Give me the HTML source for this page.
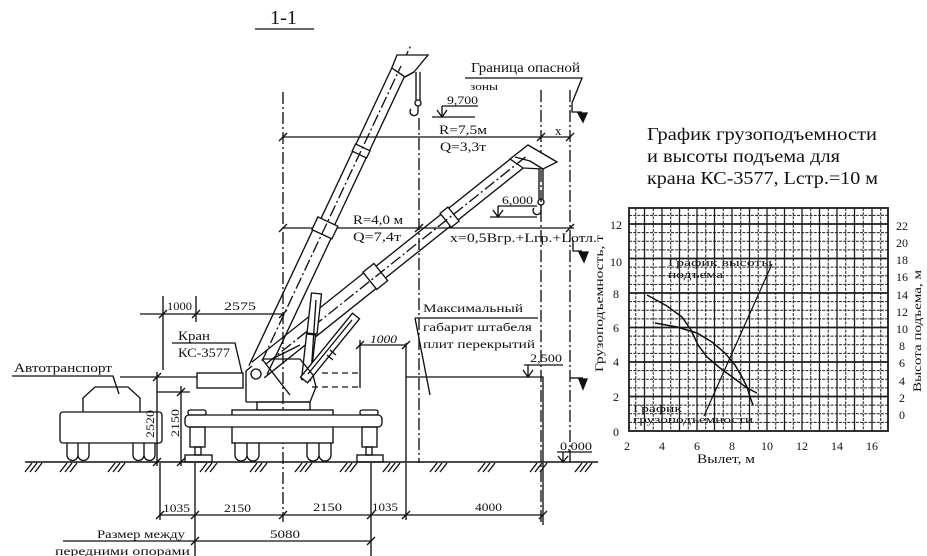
<!DOCTYPE html>
<html><head><meta charset="utf-8"><style>
html,body{margin:0;padding:0;background:#fff;}
svg{display:block;}
text{font-family:"Liberation Serif","DejaVu Serif",serif;fill:#111;}
</style></head><body>
<svg width="927" height="556" viewBox="0 0 927 556" xmlns="http://www.w3.org/2000/svg">
<g fill="none" stroke="#111" stroke-width="1.35">

<line x1="255" y1="29" x2="314" y2="29"/>

<g stroke-dasharray="12 3 2 3">
<line x1="283" y1="92" x2="283" y2="522"/>
<line x1="419" y1="118" x2="419" y2="463"/>
<line x1="541" y1="90" x2="541" y2="525"/>
<line x1="570" y1="90" x2="570" y2="463"/>
<line x1="403" y1="62" x2="411" y2="45"/>
</g>

<line x1="283" y1="137" x2="570" y2="137"/>
<line x1="283" y1="228" x2="574" y2="228"/>
<path d="M279,141 l8,-8 M537,141 l8,-8 M566,141 l8,-8 M279,232 l8,-8 M415,232 l8,-8 M566,232 l8,-8"/>

<path d="M465,78 H582 L572,103 V112 H582"/>
<polygon points="578,113 587,113 583,122" fill="#111"/>
<path d="M573,240 V251 H582"/>
<polygon points="579,252 588,252 584,262" fill="#111"/>
<path d="M570,378 H583"/>
<polygon points="579,379 587,379 583,389" fill="#111"/>

<path d="M442,106 H478 M442,106 V117 M432,117 H475 M437,110 L442,117 L447,110"/>
<path d="M498,206 H537 M498,206 V217 M490,217 H537 M493,210 L498,217 L503,210"/>
<path d="M524,365 H563 M528,365 V377 M523,370 L528,377 L533,370"/>
<path d="M557,452 H592 M563,452 V462 M558,456 L563,462 L568,456"/>

<path d="M248.9,365.7 L315.8,223.6 M267.1,374.3 L334,232.2"/>
<path d="M318.1,224.7 L391.8,68 M331.7,231.1 L404.7,76"/>
<polygon points="311.9,229.6 331.9,238.9 337.9,226.3 317.9,216.9" fill="#fff"/>
<polygon points="352.2,151.2 366.6,158 370,150.8 355.6,144" fill="#fff"/>
<polygon points="391.8,68 397,55 428,55 414,72 405,77" fill="#fff"/>
<path d="M395,70 L405,77 L414,72" />
<line x1="262" y1="361" x2="401" y2="66" stroke-dasharray="12 3 2 3"/>
<path d="M416,72 V100 M420,72 V100"/>
<circle cx="418" cy="103" r="3"/>
<path d="M418,106 V111 a4,4 0 1 1 -7,-2"/>

<path d="M251.8,362.2 L369.1,268.6 M264.2,377.8 L381.5,284.2"/>
<path d="M370.6,270.5 L510,159.3 M380,282.3 L523,168.2"/>
<polygon points="362.9,272.2 376.7,289.4 387.7,280.7 373.9,263.5" fill="#fff"/>
<polygon points="440.1,213.3 451.3,227.3 459.1,221.1 447.9,207.1" fill="#fff"/>
<polygon points="510,159 528,145 557,162 543,169 523,168" fill="#fff"/>
<path d="M515,157 L530,161 L543,169"/>
<line x1="266" y1="364" x2="528" y2="155" stroke-dasharray="12 3 2 3"/>
<path d="M539,169 V199 M543,169 V199"/>
<circle cx="541" cy="202" r="3"/>
<path d="M541,205 V210 a4,4 0 1 1 -7,-2"/>

<polygon points="301.5,379.5 310.5,380.5 315.6,335 306.6,334" fill="#fff"/>
<polygon points="307,333 317,334 321.5,294 311.5,293" fill="#fff"/>
<line x1="311" y1="375" x2="316" y2="300"/>
<polygon points="300.5,377.2 307.5,382.8 359.5,318.8 352.5,313.2" fill="#fff"/>
<path d="M308,374 L352,320 M327,355 l6,5 M330,350 l6,5"/>

<path d="M246,402 V371 L252,366 M262,359 H300 M300,359 L313,375 L316,387 L310,402 H246"/>
<path d="M262,359 L290,395 M272,359 L300,345"/>
<circle cx="256" cy="374" r="5" fill="#fff"/>
<rect x="197" y="373" width="46" height="15"/>
<rect x="257" y="402" width="53" height="8"/>
<rect x="232" y="410" width="101" height="33" fill="#fff"/>
<rect x="185" y="415" width="197" height="12" rx="4" fill="#fff"/>
<rect x="188" y="410" width="18" height="5" rx="2"/>
<rect x="360" y="410" width="18" height="5" rx="2"/>
<rect x="190" y="427" width="15" height="20"/>
<rect x="195" y="447" width="6" height="8"/>
<rect x="185" y="455" width="27" height="7"/>
<rect x="362" y="427" width="15" height="20"/>
<rect x="366" y="447" width="6" height="8"/>
<rect x="357" y="455" width="26" height="7"/>
<path d="M235,443 V455 a6,6 0 0 0 12,0 V443 M247,443 V455 a6,6 0 0 0 12,0 V443"/>
<path d="M307,443 V455 a6,6 0 0 0 12,0 V443 M319,443 V455 a6,6 0 0 0 12,0 V443"/>

<path d="M322,373 H360 M312,387 H360" stroke-dasharray="6 4"/>
<path d="M360,340 V388"/>
<path d="M360,345 H406 M356,349 l8,-8 M402,349 l8,-8"/>

<path d="M406,343 V462 M406,377 H543 V462"/>
<path d="M415,318 H538 M415,318 L430,395"/>

<path d="M83,412 V398 L95,387 H128 L140,398 V412"/>
<rect x="60" y="412" width="102" height="31" rx="3"/>
<path d="M67,443 V455 a5.5,5.5 0 0 0 11,0 V443 M78,443 V455 a5.5,5.5 0 0 0 11,0 V443"/>
<path d="M133,443 V455 a5.5,5.5 0 0 0 11,0 V443 M144,443 V455 a5.5,5.5 0 0 0 11,0 V443"/>
<path d="M12,376 H113 L119,394"/>

<path d="M172,343 H235 L242,373"/>

<path d="M140,314 H283 M159,318 l8,-8 M192,318 l8,-8 M279,318 l8,-8"/>
<path d="M163,296 V370 M196,296 V322"/>
<path d="M120,377 H197 M157,372 V466 M153,381 l8,-8 M153,466 l8,-8"/>
<path d="M157,392 H190 M181,386 V466 M177,396 l8,-8 M177,466 l8,-8"/>

<line x1="25" y1="462" x2="598" y2="462" stroke-width="1.5"/>
<path d="M25,472 l7,-9 M30,472 l7,-9 M35,472 l7,-9
M60,472 l7,-9 M65,472 l7,-9 M70,472 l7,-9
M108,472 l7,-9 M113,472 l7,-9 M118,472 l7,-9
M200,472 l7,-9 M205,472 l7,-9 M210,472 l7,-9
M250,472 l7,-9 M255,472 l7,-9 M260,472 l7,-9
M295,472 l7,-9 M300,472 l7,-9 M305,472 l7,-9
M340,472 l7,-9 M345,472 l7,-9 M350,472 l7,-9
M383,472 l7,-9 M388,472 l7,-9 M393,472 l7,-9
M430,472 l7,-9 M435,472 l7,-9 M440,472 l7,-9
M478,472 l7,-9 M483,472 l7,-9 M488,472 l7,-9
M530,472 l7,-9 M535,472 l7,-9 M540,472 l7,-9
M575,472 l7,-9 M580,472 l7,-9 M585,472 l7,-9"/>

<path d="M160,463 V520 M195,463 V556 M371,463 V556 M406,463 V520 M543,463 V525"/>
<path d="M160,515 H543 M156,519 l8,-8 M191,519 l8,-8 M279,519 l8,-8 M367,519 l8,-8 M402,519 l8,-8 M539,519 l8,-8"/>
<path d="M63,541 H371 M191,545 l8,-8 M367,545 l8,-8"/>
</g>

<text x="270" y="24" font-size="20" textLength="27" lengthAdjust="spacingAndGlyphs">1-1</text>
<text x="471" y="72" font-size="14" textLength="109" lengthAdjust="spacingAndGlyphs">Граница опасной</text>
<text x="470" y="90" font-size="11" textLength="28" lengthAdjust="spacingAndGlyphs">зоны</text>
<text x="447" y="104" font-size="12" textLength="31" lengthAdjust="spacingAndGlyphs">9,700</text>
<text x="439" y="134" font-size="13" textLength="48" lengthAdjust="spacingAndGlyphs">R=7,5м</text>
<text x="440" y="151" font-size="13" textLength="46" lengthAdjust="spacingAndGlyphs">Q=3,3т</text>
<text x="555" y="135" font-size="13">x</text>
<text x="502" y="204" font-size="12" textLength="31" lengthAdjust="spacingAndGlyphs">6,000</text>
<text x="353" y="224" font-size="13" textLength="50" lengthAdjust="spacingAndGlyphs">R=4,0 м</text>
<text x="353" y="241" font-size="13" textLength="48" lengthAdjust="spacingAndGlyphs">Q=7,4т</text>
<text x="450" y="242" font-size="13" textLength="147" lengthAdjust="spacingAndGlyphs">x=0,5Вгр.+Lгр.+Lотл.</text>

<text x="167" y="310" font-size="12" textLength="25" lengthAdjust="spacingAndGlyphs">1000</text>
<text x="224" y="310" font-size="12" textLength="32" lengthAdjust="spacingAndGlyphs">2575</text>
<text x="178" y="340" font-size="13" textLength="32" lengthAdjust="spacingAndGlyphs">Кран</text>
<text x="178" y="357" font-size="13" textLength="52" lengthAdjust="spacingAndGlyphs">КС-3577</text>
<text x="14" y="372" font-size="13" textLength="98" lengthAdjust="spacingAndGlyphs">Автотранспорт</text>
<text transform="translate(154,438) rotate(-90)" font-size="12" textLength="28" lengthAdjust="spacingAndGlyphs">2520</text>
<text transform="translate(179,437) rotate(-90)" font-size="12" textLength="28" lengthAdjust="spacingAndGlyphs">2150</text>

<text x="370" y="343" font-size="12" font-style="italic" textLength="27" lengthAdjust="spacingAndGlyphs">1000</text>
<text x="423" y="312" font-size="12" textLength="100" lengthAdjust="spacingAndGlyphs">Максимальный</text>
<text x="423" y="331" font-size="12" textLength="109" lengthAdjust="spacingAndGlyphs">габарит штабеля</text>
<text x="423" y="348" font-size="12" textLength="112" lengthAdjust="spacingAndGlyphs">плит перекрытий</text>
<text x="530" y="362" font-size="12" textLength="32" lengthAdjust="spacingAndGlyphs">2,500</text>
<text x="560" y="450" font-size="12" textLength="32" lengthAdjust="spacingAndGlyphs">0,000</text>

<text x="163" y="512" font-size="12" textLength="27" lengthAdjust="spacingAndGlyphs">1035</text>
<text x="224" y="512" font-size="12" textLength="27" lengthAdjust="spacingAndGlyphs">2150</text>
<text x="313" y="511" font-size="12" textLength="29" lengthAdjust="spacingAndGlyphs">2150</text>
<text x="372" y="511" font-size="12" textLength="26" lengthAdjust="spacingAndGlyphs">1035</text>
<text x="475" y="511" font-size="12" textLength="27" lengthAdjust="spacingAndGlyphs">4000</text>
<text x="97" y="538" font-size="12" textLength="88" lengthAdjust="spacingAndGlyphs">Размер между</text>
<text x="270" y="538" font-size="12" textLength="30" lengthAdjust="spacingAndGlyphs">5080</text>
<text x="55" y="555" font-size="12" textLength="135" lengthAdjust="spacingAndGlyphs">передними опорами</text>

<text x="647" y="140" font-size="18" textLength="230" lengthAdjust="spacingAndGlyphs">График грузоподъемности</text>
<text x="647" y="162" font-size="18" textLength="193" lengthAdjust="spacingAndGlyphs">и высоты подъема для</text>
<text x="647" y="184" font-size="18" textLength="231" lengthAdjust="spacingAndGlyphs">крана КС-3577, Lстр.=10 м</text>

<text x="668" y="266" font-size="11" textLength="104" lengthAdjust="spacingAndGlyphs">График высоты</text>
<text x="668" y="278" font-size="11" textLength="55" lengthAdjust="spacingAndGlyphs">подъема</text>
<text x="633" y="412" font-size="11" textLength="49" lengthAdjust="spacingAndGlyphs">График</text>
<text x="633" y="423" font-size="11" textLength="120" lengthAdjust="spacingAndGlyphs">грузоподъемности</text>

<g fill="none" stroke="#1c1c1c">
<rect x="629" y="208" width="259" height="223" stroke-width="1.8"/>
<path stroke-width="1" stroke-dasharray="3 1.2" d="M635.75,208V431 M653.25,208V431 M670.75,208V431 M688.25,208V431 M705.75,208V431 M723.25,208V431 M740.75,208V431 M758.25,208V431 M775.75,208V431 M793.25,208V431 M810.75,208V431 M828.25,208V431 M845.75,208V431 M863.25,208V431 M880.75,208V431"/>
<path stroke-width="1.3" d="M644.5,208V431 M662,208V431 M679.5,208V431 M697,208V431 M714.5,208V431 M732,208V431 M749.5,208V431 M767,208V431 M784.5,208V431 M802,208V431 M819.5,208V431 M837,208V431 M854.5,208V431 M872,208V431"/>
<path stroke-width="1" stroke-dasharray="3 1.2" d="M629,422.4H888 M629,413.75H888 M629,405.1H888 M629,387.9H888 M629,379.25H888 M629,370.6H888 M629,353.4H888 M629,344.75H888 M629,336.1H888 M629,318.9H888 M629,310.25H888 M629,301.6H888 M629,284.4H888 M629,275.75H888 M629,267.1H888 M629,249.9H888 M629,241.25H888 M629,232.6H888 M629,215.4H888"/>
<path stroke-width="1.7" d="M629,396.5H888 M629,362H888 M629,327.5H888 M629,293H888 M629,258.5H888 M629,224H888"/>
</g>
<g fill="none" stroke="#111" stroke-width="1.5">
<polyline points="647,295 667,306 682,317 691,330 698,345 707,357 720,368 735,379 747,388 757,393"/>
<polyline points="655,323 677,327 697,333 712,342 725,353 735,365 742,377 747,387 750,397 753,405"/>
<line x1="772" y1="264" x2="704" y2="416" stroke-width="1.2"/>
</g>

<g font-size="12" text-anchor="middle">
<text x="616" y="229">12</text>
<text x="616" y="266">10</text>
<text x="616" y="298">8</text>
<text x="616" y="332">6</text>
<text x="616" y="366">4</text>
<text x="616" y="401">2</text>
<text x="616" y="436">0</text>
<text x="902" y="230">22</text>
<text x="902" y="247">20</text>
<text x="902" y="264">18</text>
<text x="902" y="281">16</text>
<text x="902" y="299">14</text>
<text x="902" y="316">12</text>
<text x="902" y="333">10</text>
<text x="902" y="350">8</text>
<text x="902" y="367">6</text>
<text x="902" y="385">4</text>
<text x="902" y="402">2</text>
<text x="902" y="419">0</text>
<text x="627" y="450">2</text>
<text x="662" y="450">4</text>
<text x="697" y="450">6</text>
<text x="732" y="450">8</text>
<text x="767" y="450">10</text>
<text x="802" y="450">12</text>
<text x="837" y="450">14</text>
<text x="872" y="450">16</text>
</g>
<text x="697" y="463" font-size="13" textLength="58" lengthAdjust="spacingAndGlyphs">Вылет, м</text>
<text transform="translate(603,372) rotate(-90)" font-size="12" textLength="137" lengthAdjust="spacingAndGlyphs">Грузоподъемность, т</text>
<text transform="translate(921,392) rotate(-90)" font-size="12" textLength="122" lengthAdjust="spacingAndGlyphs">Высота подъема, м</text>
</svg>
</body></html>
